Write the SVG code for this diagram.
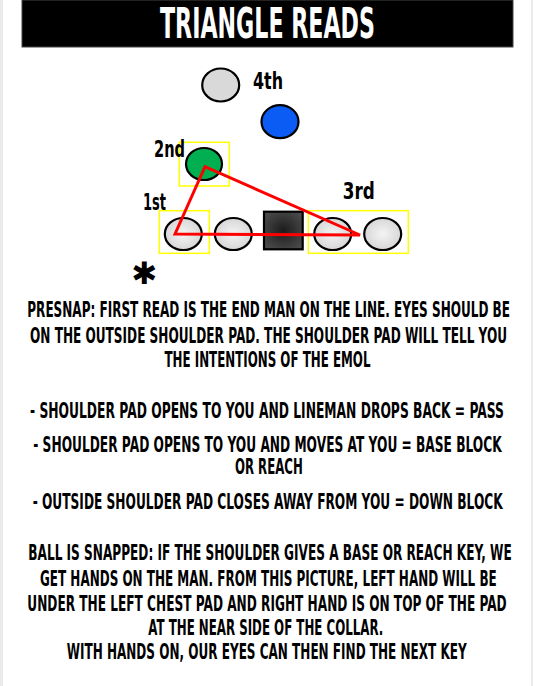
<svg xmlns="http://www.w3.org/2000/svg" width="533" height="686" viewBox="0 0 533 686">
<defs>
<radialGradient id="gPlayer" cx="50%" cy="50%" r="55%">
<stop offset="0" stop-color="#f4f4f4"/>
<stop offset="1" stop-color="#d4d4d4"/>
</radialGradient>
<radialGradient id="gCenter" cx="50%" cy="50%" r="60%">
<stop offset="0" stop-color="#1c1c1c"/>
<stop offset="1" stop-color="#4a4a4a"/>
</radialGradient>
<style>
.t{font-family:"DejaVu Sans","Liberation Sans",sans-serif;font-weight:bold;fill:#000;}
.body{font-size:21px;}
.lbl{font-size:23px;}
.ttl{font-size:42px;fill:#fff;}
.pl{stroke:#000;stroke-width:2.2;}
.yb{fill:none;stroke:#ffff00;stroke-width:1.5;}
</style>
</defs>
<rect x="0" y="0" width="533" height="686" fill="#ebebeb"/>
<rect x="3" y="0" width="528" height="686" fill="#ffffff"/>
<g id="title">
<rect x="22" y="0" width="491" height="47" fill="#000" stroke="#444" stroke-width="1"/>
<g transform="scale(0.55 1)">
<text class="t ttl" x="290.9" y="38.5" textLength="390.9" lengthAdjust="spacingAndGlyphs">TRIANGLE READS</text>
</g>
</g>
<g id="node-4th">
<ellipse class="pl" cx="220.7" cy="85" rx="18.5" ry="16.5" fill="#d9d9d9"/>
<text class="t lbl" x="253" y="89" textLength="30" lengthAdjust="spacingAndGlyphs">4th</text>
</g>
<g id="node-blue">
<ellipse class="pl" cx="280" cy="121.7" rx="18.5" ry="16.5" fill="#0a5cf5"/>
</g>
<g id="node-2nd">
<rect class="yb" x="179.3" y="142.3" width="50" height="43.7"/>
<ellipse class="pl" cx="204" cy="164" rx="18" ry="16" fill="#00b050"/>
<text class="t lbl" x="154" y="156.7" textLength="31" lengthAdjust="spacingAndGlyphs">2nd</text>
</g>
<g id="node-1st">
<rect class="yb" x="159.3" y="210.7" width="50" height="42.6"/>
<ellipse class="pl" cx="183.3" cy="234" rx="18.5" ry="16" fill="url(#gPlayer)"/>
<text class="t lbl" x="143" y="210" textLength="23" lengthAdjust="spacingAndGlyphs">1st</text>
</g>
<g id="node-guard">
<ellipse class="pl" cx="233.3" cy="234" rx="18.5" ry="16" fill="url(#gPlayer)"/>
</g>
<g id="node-center">
<rect class="pl" x="264" y="211.7" width="38.7" height="37.6" fill="url(#gCenter)"/>
</g>
<g id="node-3rd">
<rect class="yb" x="308.3" y="210.7" width="100" height="42.6"/>
<ellipse class="pl" cx="332.7" cy="234" rx="18.5" ry="16" fill="url(#gPlayer)"/>
<ellipse class="pl" cx="382.7" cy="234" rx="18.5" ry="16" fill="url(#gPlayer)"/>
<text class="t lbl" x="342.7" y="199.3" textLength="32" lengthAdjust="spacingAndGlyphs">3rd</text>
</g>
<g id="connectors">
<polygon points="175,234 205,166.7 360,235" fill="none" stroke="#ff0000" stroke-width="3" stroke-linejoin="miter"/>
</g>
<g id="asterisk">
<text x="144.5" y="283.5" font-family="DejaVu Sans,sans-serif" font-size="31" font-weight="bold" text-anchor="middle" fill="#000">✱</text>
</g>
<g id="notes" class="t body" transform="scale(0.55 1)">
<text x="49.64" y="317.5" textLength="877.6" lengthAdjust="spacingAndGlyphs">PRESNAP: FIRST READ IS THE END MAN ON THE LINE. EYES SHOULD BE</text>
<text x="54.55" y="343" textLength="867.3" lengthAdjust="spacingAndGlyphs">ON THE OUTSIDE SHOULDER PAD. THE SHOULDER PAD WILL TELL YOU</text>
<text x="299.1" y="367" textLength="374.5" lengthAdjust="spacingAndGlyphs">THE INTENTIONS OF THE EMOL</text>
<text x="54.55" y="418.3" textLength="861.8" lengthAdjust="spacingAndGlyphs">- SHOULDER PAD OPENS TO YOU AND LINEMAN DROPS BACK = PASS</text>
<text x="60.55" y="451.7" textLength="851.6" lengthAdjust="spacingAndGlyphs">- SHOULDER PAD OPENS TO YOU AND MOVES AT YOU = BASE BLOCK</text>
<text x="427.3" y="474.3" textLength="123.1" lengthAdjust="spacingAndGlyphs">OR REACH</text>
<text x="59.45" y="509" textLength="854.5" lengthAdjust="spacingAndGlyphs">- OUTSIDE SHOULDER PAD CLOSES AWAY FROM YOU = DOWN BLOCK</text>
<text x="51.45" y="560" textLength="878.9" lengthAdjust="spacingAndGlyphs">BALL IS SNAPPED: IF THE SHOULDER GIVES A BASE OR REACH KEY, WE</text>
<text x="72.73" y="586" textLength="830.4" lengthAdjust="spacingAndGlyphs">GET HANDS ON THE MAN. FROM THIS PICTURE, LEFT HAND WILL BE</text>
<text x="49.64" y="610.7" textLength="871.6" lengthAdjust="spacingAndGlyphs">UNDER THE LEFT CHEST PAD AND RIGHT HAND IS ON TOP OF THE PAD</text>
<text x="269.6" y="635" textLength="427.3" lengthAdjust="spacingAndGlyphs">AT THE NEAR SIDE OF THE COLLAR.</text>
<text x="121.3" y="659.3" textLength="727.3" lengthAdjust="spacingAndGlyphs">WITH HANDS ON, OUR EYES CAN THEN FIND THE NEXT KEY</text>
</g>
</svg>
